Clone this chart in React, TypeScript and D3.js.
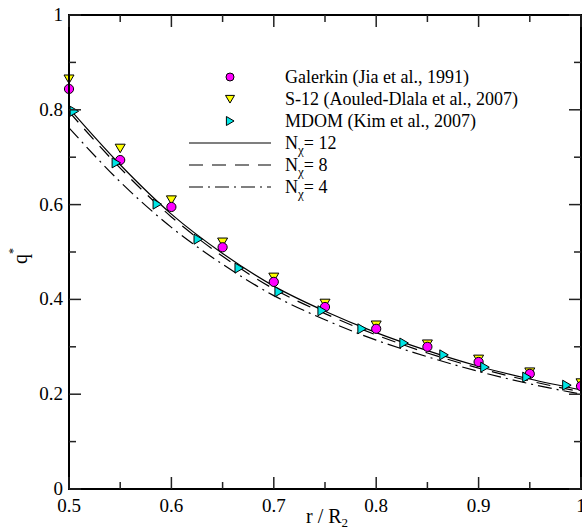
import React from "react";
import * as d3 from "d3";

// reference data
const galerkinR = [0.5, 0.55, 0.6, 0.65, 0.7, 0.75, 0.8, 0.85, 0.9, 0.95, 1.0];
const galerkinQ = [0.844, 0.694, 0.595, 0.51, 0.437, 0.384, 0.338, 0.3, 0.268, 0.243, 0.217];
const s12Q = [0.865, 0.719, 0.61, 0.521, 0.447, 0.392, 0.346, 0.306, 0.274, 0.247, 0.224];
const mdomR = [0.505, 0.546, 0.586, 0.626, 0.666, 0.705, 0.747, 0.786, 0.827, 0.866, 0.906, 0.947, 0.986];
const mdomQ = [0.797, 0.688, 0.601, 0.527, 0.466, 0.416, 0.376, 0.338, 0.308, 0.283, 0.257, 0.236, 0.219];

// present solutions
const curveR = [0.5, 0.55, 0.6, 0.65, 0.7, 0.75, 0.8, 0.85, 0.9, 0.95, 1.0];
const n12 = [0.803, 0.684, 0.58, 0.497, 0.428, 0.375, 0.33, 0.292, 0.259, 0.232, 0.209];
const n8 = [0.796, 0.677, 0.574, 0.491, 0.422, 0.37, 0.325, 0.287, 0.255, 0.228, 0.205];
const n4 = [0.762, 0.648, 0.552, 0.474, 0.408, 0.357, 0.314, 0.279, 0.248, 0.222, 0.2];

const xMajor = [0.5, 0.6, 0.7, 0.8, 0.9, 1.0];
const xMinor = [0.55, 0.65, 0.75, 0.85, 0.95];
const yMajor = [0, 0.2, 0.4, 0.6, 0.8, 1.0];
const yMinor = [0.1, 0.3, 0.5, 0.7, 0.9];

const W = 582;
const H = 531;
const left = 69, right = 581, top = 15, bottom = 489;
const FONT = "Times New Roman";

const magenta = "#ff00ff";
const yellow = "#ffff00";
const cyan = "#00e5e5";

function Circle({ x, y, r = 4.6 }: { x: number; y: number; r?: number }) {
  return <circle cx={x} cy={y} r={r} fill={magenta} stroke="#000" strokeWidth={1} />;
}
function TriDown({ x, y, s = 5 }: { x: number; y: number; s?: number }) {
  const p = `${x - s},${y - s * 0.8} ${x + s},${y - s * 0.8} ${x},${y + s * 0.9}`;
  return <polygon points={p} fill={yellow} stroke="#000" strokeWidth={1} />;
}
function TriRight({ x, y, s = 5 }: { x: number; y: number; s?: number }) {
  const p = `${x - s * 0.8},${y - s} ${x - s * 0.8},${y + s} ${x + s * 0.9},${y}`;
  return <polygon points={p} fill={cyan} stroke="#000" strokeWidth={1} />;
}

function T(props: React.SVGProps<SVGTextElement>) {
  return <text {...props} style={{ fontFamily: `"${FONT}"` }} />;
}

export default function App() {
  const x = d3.scaleLinear().domain([0.5, 1.0]).range([left, right]);
  const y = d3.scaleLinear().domain([0, 1]).range([bottom, top]);

  const lineGen = d3
    .line<[number, number]>()
    .x((d) => x(d[0]))
    .y((d) => y(d[1]))
    .curve(d3.curveMonotoneX);

  const path = (vals: number[]) => lineGen(curveR.map((r, i) => [r, vals[i]] as [number, number])) || "";

  const legendX = 230;
  const textX = 285;
  const rows = [77, 99, 121, 143, 165, 187];

  return (
    <svg width={W} height={H} style={{ position: "absolute", left: 0, top: 0 }}>
      <style>{`text, tspan { font-family: "Times New Roman", "Liberation Serif"; }`}</style>
      <rect width={W} height={H} fill="#fff" />
      <defs>
        <clipPath id="plot">
          <rect x={left - 8} y={top - 8} width={right - left + 16} height={bottom - top + 16} />
        </clipPath>
      </defs>

      {/* curves */}
      <g fill="none" stroke="#000" strokeWidth={1.2}>
        <path d={path(n12)} />
        <path d={path(n8)} strokeDasharray="14,9" />
        <path d={path(n4)} strokeDasharray="14,5,2,5" />
      </g>

      {/* markers */}
      <g clipPath="url(#plot)">
        {galerkinR.map((r, i) => (
          <TriDown key={"s" + i} x={x(r)} y={y(s12Q[i])} />
        ))}
        {galerkinR.map((r, i) => (
          <Circle key={"g" + i} x={x(r)} y={y(galerkinQ[i])} />
        ))}
        {mdomR.map((r, i) => (
          <TriRight key={"m" + i} x={x(r)} y={y(mdomQ[i])} />
        ))}
      </g>

      {/* frame */}
      <rect x={left} y={top} width={right - left} height={bottom - top} fill="none" stroke="#000" strokeWidth={2} />

      {/* ticks */}
      <g stroke="#222" strokeWidth={1.5}>
        {xMajor.map((v) => (
          <g key={"xM" + v}>
            <line x1={x(v)} x2={x(v)} y1={bottom} y2={bottom - 12} />
            <line x1={x(v)} x2={x(v)} y1={top} y2={top + 12} />
          </g>
        ))}
        {xMinor.map((v) => (
          <g key={"xm" + v}>
            <line x1={x(v)} x2={x(v)} y1={bottom} y2={bottom - 7} />
            <line x1={x(v)} x2={x(v)} y1={top} y2={top + 7} />
          </g>
        ))}
        {yMajor.map((v) => (
          <g key={"yM" + v}>
            <line x1={left} x2={left + 12} y1={y(v)} y2={y(v)} />
            <line x1={right} x2={right - 12} y1={y(v)} y2={y(v)} />
          </g>
        ))}
        {yMinor.map((v) => (
          <g key={"ym" + v}>
            <line x1={left} x2={left + 7} y1={y(v)} y2={y(v)} />
            <line x1={right} x2={right - 7} y1={y(v)} y2={y(v)} />
          </g>
        ))}
      </g>

      {/* tick labels */}
      {xMajor.map((v) => (
        <T key={"xl" + v} x={x(v)} y={bottom + 23} textAnchor="middle" fontSize={19}>
          {v === 1 ? "1" : d3.format(".1f")(v)}
        </T>
      ))}
      {yMajor.map((v) => (
        <T key={"yl" + v} x={left - 6} y={y(v) + 6} textAnchor="end" fontSize={19}>
          {v === 0 || v === 1 ? String(v) : d3.format(".1f")(v)}
        </T>
      ))}

      {/* axis titles */}
      <T x={(left + right) / 2 + 2} y={523} textAnchor="middle" fontSize={20}>
        r / R<tspan fontSize={13} dy={4}>2</tspan>
      </T>
      <T transform={`translate(27, 256) rotate(-90)`} textAnchor="middle" fontSize={20}>
        q<tspan fontSize={12} dy={-10}>*</tspan>
      </T>

      {/* legend */}
      <Circle x={legendX} y={rows[0]} r={4} />
      <T x={textX} y={rows[0] + 6} fontSize={18}>Galerkin (Jia et al., 1991)</T>
      <TriDown x={legendX} y={rows[1]} s={4.5} />
      <T x={textX} y={rows[1] + 6} fontSize={18}>S-12 (Aouled-Dlala et al., 2007)</T>
      <TriRight x={legendX} y={rows[2]} s={4.5} />
      <T x={textX} y={rows[2] + 6} fontSize={18}>MDOM (Kim et al., 2007)</T>

      <g stroke="#000" strokeWidth={1.2}>
        <line x1={189} x2={271} y1={rows[3]} y2={rows[3]} />
        <line x1={189} x2={271} y1={rows[4]} y2={rows[4]} strokeDasharray="14,9" />
        <line x1={189} x2={271} y1={rows[5]} y2={rows[5]} strokeDasharray="14,5,2,5" />
      </g>
      {[["12", rows[3]], ["8", rows[4]], ["4", rows[5]]].map(([n, ry]) => (
        <T key={"n" + n} x={textX} y={(ry as number) + 6} fontSize={18}>
          N<tspan fontSize={13} dy={5}>χ</tspan>
          <tspan dy={-5}>= {n}</tspan>
        </T>
      ))}
    </svg>
  );
}
